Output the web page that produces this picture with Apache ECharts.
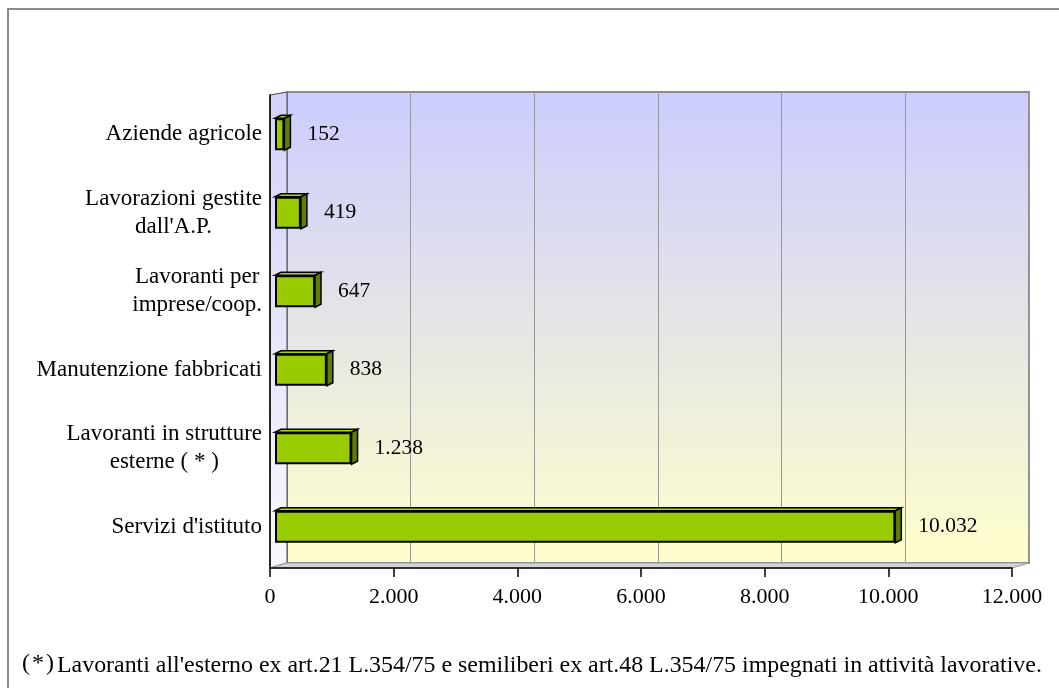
<!DOCTYPE html>
<html>
<head>
<meta charset="utf-8">
<script src="https://cdn.jsdelivr.net/npm/echarts@6/dist/echarts.min.js"></script>
<style>
  html, body { margin: 0; padding: 0; background: #fff; }
  #chart { width: 1059px; height: 688px; }
</style>
</head>
<body>
<div id="chart"></div>
<script>
// dati
const categories = [
  'Aziende agricole',
  "Lavorazioni gestite\ndall'A.P.",
  'Lavoranti per\nimprese/coop.',
  'Manutenzione fabbricati',
  'Lavoranti in strutture\nesterne ( * )',
  "Servizi d'istituto"
];
const values = [152, 419, 647, 838, 1238, 10032];
const xMin = 0;
const xMax = 12000;
const xStep = 2000;
const footnoteMark = '(\u200A*\u200A)';
const footnoteText = "Lavoranti all'esterno ex art.21 L.354/75 e semiliberi ex art.48 L.354/75 impegnati in attività lavorative.";

const font = 'Liberation Serif';

function fmt(v) {
  return String(v).replace(/\B(?=(\d{3})+(?!\d))/g, '.');
}

const myChart = echarts.init(document.getElementById('chart'));

const option = {
  animation: false,
  textStyle: { fontFamily: font },
  grid: [
    // parete di fondo
    {
      left: 287, top: 92, width: 742, height: 471,
      show: true,
      backgroundColor: {
        type: 'linear', x: 0, y: 0, x2: 0, y2: 1,
        colorStops: [
          { offset: 0, color: '#ccccff' },
          { offset: 1, color: '#ffffcc' }
        ]
      },
      borderColor: '#8c8c8c',
      borderWidth: 2
    },
    // assi frontali
    { left: 270, top: 95, width: 742, height: 473 },
    // barre
    { left: 275, top: 95, width: 742, height: 471 }
  ],
  xAxis: [
    {
      gridIndex: 0, type: 'value', min: xMin, max: xMax, interval: xStep,
      axisLine: { show: false }, axisTick: { show: false }, axisLabel: { show: false },
      splitLine: { show: true, lineStyle: { color: '#999', width: 1 } }
    },
    {
      gridIndex: 1, type: 'value', min: xMin, max: xMax, interval: xStep, z: 5,
      axisLine: { show: true, lineStyle: { color: '#000', width: 1.5 } },
      axisTick: { show: true, length: 9, lineStyle: { color: '#000', width: 1.5 } },
      axisLabel: { color: '#000', fontSize: 22, fontFamily: font, margin: 18, formatter: fmt },
      splitLine: { show: false }
    },
    {
      gridIndex: 2, type: 'value', min: xMin, max: xMax, show: false
    }
  ],
  yAxis: [
    { gridIndex: 0, type: 'category', data: categories, inverse: true, show: false },
    {
      gridIndex: 1, type: 'category', data: categories, inverse: true, z: 5,
      axisLine: { show: true, lineStyle: { color: '#000', width: 1.5 } },
      axisTick: { show: false }, axisLabel: { show: false }
    },
    {
      gridIndex: 2, type: 'category', data: categories, inverse: true,
      axisLine: { show: false }, axisTick: { show: false },
      axisLabel: {
        margin: 13,
        formatter: v => v.split('\n').map(s => '{c|' + s + '}').join('\n'),
        rich: {
          c: { align: 'center', fontSize: 23, lineHeight: 28, fontFamily: font, color: '#000' }
        }
      }
    }
  ],
  graphic: [
    // cornice esterna
    {
      type: 'rect', z: 0,
      shape: { x: 8, y: 9, width: 1100, height: 720 },
      style: { fill: 'none', stroke: '#8c8c8c', lineWidth: 2 }
    },
    // parete laterale
    {
      type: 'polygon', z: 1,
      shape: { points: [[270, 95], [287, 92], [287, 563], [270, 568]] },
      style: {
        fill: {
          type: 'linear', x: 0, y: 0, x2: 0, y2: 1,
          colorStops: [
            { offset: 0, color: '#d2d2fa' },
            { offset: 1, color: '#f8f8ff' }
          ]
        },
        stroke: '#444', lineWidth: 1
      }
    },
    // pavimento
    {
      type: 'polygon', z: 1,
      shape: { points: [[270, 568], [287, 563], [1029, 563], [1012, 568]] },
      style: { fill: '#d4d4d4', stroke: '#999', lineWidth: 1 }
    },
    // nota
    {
      type: 'text', z: 3, x: 22, y: 652,
      style: { text: footnoteMark, fontSize: 24, fontFamily: font, fill: '#000' }
    },
    {
      type: 'text', z: 3, x: 57, y: 654,
      style: { text: footnoteText, fontSize: 23.9, fontFamily: font, fill: '#000' }
    }
  ],
  series: [
    {
      type: 'bar',
      xAxisIndex: 2, yAxisIndex: 2,
      data: values,
      barWidth: 32,
      z: 3,
      itemStyle: { color: '#99cc00', borderColor: '#000', borderWidth: 2 },
      label: {
        show: true, position: 'right', distance: 23,
        color: '#000', fontSize: 21.5, fontFamily: font,
        formatter: p => fmt(p.value)
      }
    },
    {
      // facce laterali e superiori delle barre
      type: 'custom',
      xAxisIndex: 2, yAxisIndex: 2,
      data: values.map((v, i) => [v, i]),
      z: 4,
      silent: true,
      renderItem: function (params, api) {
        const end = api.coord([api.value(0), api.value(1)]);
        const start = api.coord([0, api.value(1)]);
        const h = 16, dx = 6, dy = -3;
        const x0 = start[0], x1 = end[0], yc = end[1];
        return {
          type: 'group',
          children: [
            {
              type: 'polygon',
              shape: { points: [[x0, yc - h], [x0 + dx, yc - h + dy], [x1 + dx, yc - h + dy], [x1, yc - h]] },
              style: { fill: '#a8d610', stroke: '#000', lineWidth: 1.5 }
            },
            {
              type: 'polygon',
              shape: { points: [[x1, yc - h], [x1 + dx, yc - h + dy], [x1 + dx, yc + h + dy], [x1, yc + h]] },
              style: { fill: '#5f7d00', stroke: '#000', lineWidth: 1.5 }
            }
          ]
        };
      }
    }
  ]
};

myChart.setOption(option);

window.addEventListener('resize', function () {
  myChart.resize();
});
</script>
</body>
</html>
